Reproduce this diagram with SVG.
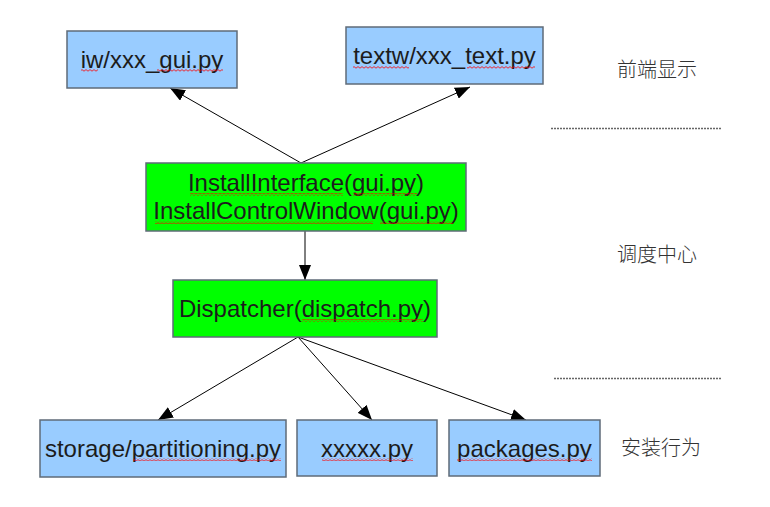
<svg xmlns="http://www.w3.org/2000/svg" width="770" height="507" viewBox="0 0 770 507">
<style>
.box{stroke:#5f6b78;stroke-width:1.5}
.blue{fill:#99ccff}
.green{fill:#00ff00}
.lbl{font-family:"Liberation Sans",Arial,sans-serif;font-size:24px;fill:#1c1c1c;text-anchor:middle}
.cn{font-family:"Noto Sans CJK SC","Liberation Sans",sans-serif;font-size:20px;font-weight:300;fill:#333333}
.edge{stroke:#000;stroke-width:1;fill:none;marker-end:url(#ah)}
.sep{stroke:#666;stroke-width:1.5;stroke-dasharray:2,1;fill:none}
.sq{fill:url(#wave)}
</style>
<defs>
<marker id="ah" markerUnits="userSpaceOnUse" markerWidth="16" markerHeight="12" refX="15" refY="6" orient="auto">
<path d="M0,0 L15,6 L0,12 Z" fill="#000"/>
</marker>
<pattern id="wave" patternUnits="userSpaceOnUse" width="4" height="3">
<path d="M0,2.2 L2,0.6 L4,2.2" stroke="#ff0000" stroke-width="0.8" fill="none"/>
</pattern>
</defs>
<g id="connectors">
<line class="edge" x1="301" y1="163" x2="170" y2="88"/>
<line class="edge" x1="301" y1="163" x2="470" y2="87"/>
<line class="edge" x1="305" y1="231" x2="305" y2="280"/>
<line class="edge" x1="298" y1="337" x2="158" y2="420"/>
<line class="edge" x1="298" y1="337" x2="372" y2="420"/>
<line class="edge" x1="298" y1="337" x2="526" y2="420"/>
</g>
<g id="node-iw">
<rect class="box blue" x="67" y="31" width="170" height="57"/>
<text class="lbl" x="152" y="68">iw/xxx_gui.py</text>
</g>
<g id="node-textw">
<rect class="box blue" x="346" y="27" width="197" height="57"/>
<text class="lbl" x="444.5" y="64">textw/xxx_text.py</text>
</g>
<g id="node-install">
<rect class="box green" x="146" y="163" width="320" height="68"/>
<text class="lbl" x="306" y="191">InstallInterface(gui.py)</text>
<text class="lbl" x="306" y="219">InstallControlWindow(gui.py)</text>
</g>
<g id="node-dispatcher">
<rect class="box green" x="173" y="280" width="264" height="57"/>
<text class="lbl" x="305" y="317">Dispatcher(dispatch.py)</text>
</g>
<g id="node-storage">
<rect class="box blue" x="40" y="420" width="246" height="57"/>
<text class="lbl" x="163" y="457">storage/partitioning.py</text>
</g>
<g id="node-xxxxx">
<rect class="box blue" x="297" y="420" width="140" height="56"/>
<text class="lbl" x="367" y="457">xxxxx.py</text>
</g>
<g id="node-packages">
<rect class="box blue" x="449" y="420" width="151" height="56"/>
<text class="lbl" x="524.5" y="457">packages.py</text>
</g>
<g id="spellcheck">
<rect class="sq" x="81" y="69" width="17" height="3"/>
<rect class="sq" x="157" y="69" width="66" height="3"/>
<rect class="sq" x="353" y="66" width="56" height="3"/>
<rect class="sq" x="467" y="66" width="68" height="3"/>
<rect class="sq" x="190" y="193" width="153" height="3"/>
<rect class="sq" x="353" y="193" width="64" height="3"/>
<rect class="sq" x="155" y="221" width="218" height="3"/>
<rect class="sq" x="380" y="221" width="73" height="3"/>
<rect class="sq" x="302" y="319" width="121" height="3"/>
<rect class="sq" x="133" y="458" width="148" height="3"/>
<rect class="sq" x="322" y="458" width="91" height="3"/>
<rect class="sq" x="457" y="458" width="135" height="3"/>
</g>
<g id="layers">
<text class="cn" x="617" y="77">前端显示</text>
<line class="sep" x1="551" y1="128.5" x2="721" y2="128.5"/>
<text class="cn" x="617" y="262">调度中心</text>
<line class="sep" x1="554" y1="378.5" x2="722" y2="378.5"/>
<text class="cn" x="621" y="455">安装行为</text>
</g>
</svg>
